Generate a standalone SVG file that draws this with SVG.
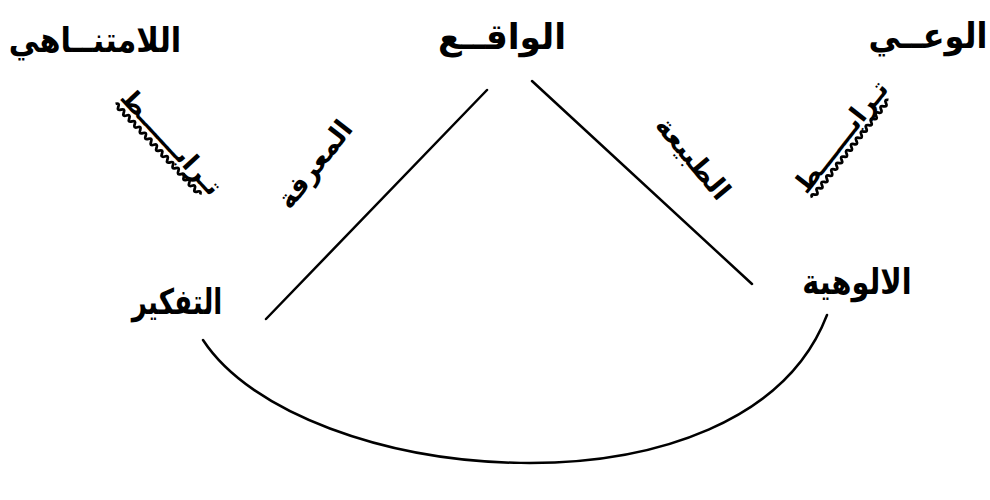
<svg xmlns="http://www.w3.org/2000/svg" width="990" height="500" viewBox="0 0 990 500">
<style>
.t{font-family:"DejaVu Sans","Noto Sans",sans-serif;font-weight:bold;fill:#000;text-anchor:middle;direction:rtl}
.big{font-size:32px}
.mid{font-size:27px}
.lk{font-size:26px}
.ln{stroke:#000;stroke-width:2.5;fill:none;stroke-linecap:round}
.wv{stroke:#000;stroke-width:2.8;fill:none}
</style>
<rect width="990" height="500" fill="#fff"/>
<g id="connectors">
<line class="ln" x1="487" y1="90" x2="266" y2="319"/>
<line class="ln" x1="532" y1="81" x2="752" y2="284"/>
<path class="ln" d="M203,340 C300,488 745,528 827,315"/>
</g>
<g id="node-infinite"><text class="t big" transform="translate(95,52) scale(0.95,1.08)">اللامتنــاهي</text></g>
<g id="node-reality"><text class="t big" transform="translate(502,49) scale(1.08,1.1)">الواقــع</text></g>
<g id="node-consciousness"><text class="t big" transform="translate(928,48) scale(1,1.1)">الوعــي</text></g>
<g id="node-thinking"><text class="t big" transform="translate(177,314) scale(0.82,1.1)">التفكير</text></g>
<g id="node-divinity"><text class="t big" transform="translate(857,294) scale(0.9,1.1)">الالوهية</text></g>
<g id="label-knowledge"><text class="t mid" transform="translate(322,170) rotate(-52)">المعرفة</text></g>
<g id="label-nature"><text class="t mid" transform="translate(686,164) rotate(50)">الطبيعة</text></g>
<g id="label-link-left" transform="translate(165,148) rotate(47)">
<text class="t lk" x="0" y="0">تـرابــــــط</text>
<path class="wv" d="M-66,6 q2,-4 4,0 t4,0 t4,0 t4,0 t4,0 t4,0 t4,0 t4,0 t4,0 t4,0 t4,0 t4,0 t4,0 t4,0 t4,0 t4,0 t4,0 t4,0 t4,0 t4,0 t4,0 t4,0 t4,0 t4,0 t4,0 t4,0 t4,0 t4,0 t4,0 t4,0 t4,0"/>
</g>
<g id="label-link-right" transform="translate(848,142) rotate(-52)">
<text class="t lk" x="0" y="0">تـرابــــــط</text>
<path class="wv" d="M-66,6 q2,-4 4,0 t4,0 t4,0 t4,0 t4,0 t4,0 t4,0 t4,0 t4,0 t4,0 t4,0 t4,0 t4,0 t4,0 t4,0 t4,0 t4,0 t4,0 t4,0 t4,0 t4,0 t4,0 t4,0 t4,0 t4,0 t4,0 t4,0 t4,0 t4,0 t4,0 t4,0"/>
</g>
</svg>
